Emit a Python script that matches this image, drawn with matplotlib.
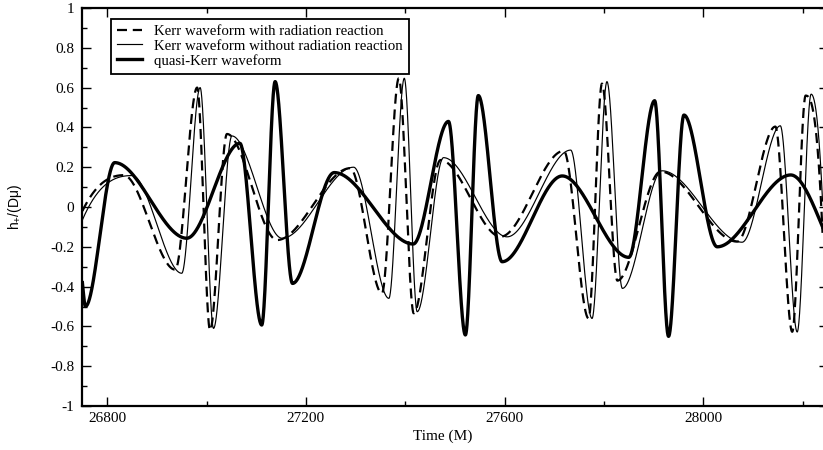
import numpy as np
import matplotlib
matplotlib.use("Agg")
import matplotlib.pyplot as plt
from matplotlib.ticker import MultipleLocator, FuncFormatter

# ---- data (extrema of each waveform) ----
t_rr = [26750, 26833, 26937, 26981, 27007, 27041, 27142, 27289, 27353, 27387,
        27417, 27471, 27592, 27719, 27769, 27796, 27827, 27914, 28068, 28145,
        28179, 28206, 28240]
h_rr = [-0.02, 0.16, -0.315, 0.60, -0.62, 0.367, -0.166, 0.195, -0.434, 0.647,
        -0.534, 0.236, -0.149, 0.282, -0.56, 0.62, -0.37, 0.178, -0.174, 0.404,
        -0.627, 0.56, -0.13]

t_norr = [26750, 26850, 26950, 26987, 27014, 27051, 27152, 27296, 27367, 27398,
          27424, 27477, 27605, 27733, 27776, 27806, 27837, 27917, 28078, 28155,
          28189, 28217, 28240]
h_norr = [-0.065, 0.158, -0.333, 0.60, -0.61, 0.357, -0.157, 0.20, -0.459, 0.647,
          -0.526, 0.248, -0.15, 0.286, -0.56, 0.63, -0.409, 0.182, -0.177, 0.408,
          -0.628, 0.567, 0.03]

t_qk = [26750, 26756, 26815, 26960, 27067, 27111, 27138, 27173, 27257, 27416,
        27487, 27521, 27547, 27595, 27716, 27850, 27902, 27930, 27961, 28028,
        28176, 28240]
h_qk = [-0.38, -0.50, 0.223, -0.157, 0.32, -0.593, 0.63, -0.384, 0.173, -0.186,
        0.43, -0.643, 0.56, -0.275, 0.156, -0.253, 0.534, -0.65, 0.462, -0.2,
        0.161, -0.1]

labels = ["Kerr waveform with radiation reaction",
          "Kerr waveform without radiation reaction",
          "quasi-Kerr waveform"]
xticks = [26800, 27200, 27600, 28000]


def pchip(x, y, xs):
    """Shape-preserving smooth curve through the read points."""
    x = np.asarray(x, float)
    y = np.asarray(y, float)
    h = np.diff(x)
    d = np.diff(y) / h
    n = len(x)
    m = np.zeros(n)
    for k in range(1, n - 1):
        if d[k - 1] * d[k] > 0:
            w1 = 2 * h[k] + h[k - 1]
            w2 = h[k] + 2 * h[k - 1]
            m[k] = (w1 + w2) / (w1 / d[k - 1] + w2 / d[k])

    def end(h0, h1, d0, d1):
        s = ((2 * h0 + h1) * d0 - h0 * d1) / (h0 + h1)
        if np.sign(s) != np.sign(d0):
            s = 0.0
        elif np.sign(d0) != np.sign(d1) and abs(s) > abs(3 * d0):
            s = 3 * d0
        return s

    m[0] = end(h[0], h[1], d[0], d[1])
    m[-1] = end(h[-1], h[-2], d[-1], d[-2])
    idx = np.clip(np.searchsorted(x, xs) - 1, 0, n - 2)
    t = (xs - x[idx]) / h[idx]
    h00 = 2 * t**3 - 3 * t**2 + 1
    h10 = t**3 - 2 * t**2 + t
    h01 = -2 * t**3 + 3 * t**2
    h11 = t**3 - t**2
    return (h00 * y[idx] + h10 * h[idx] * m[idx]
            + h01 * y[idx + 1] + h11 * h[idx] * m[idx + 1])


plt.rcParams["font.family"] = ["Liberation Serif", "DejaVu Serif"]
plt.rcParams["axes.unicode_minus"] = False
plt.rcParams["mathtext.fontset"] = "custom"
plt.rcParams["mathtext.rm"] = "Liberation Sans"
plt.rcParams["mathtext.it"] = "Liberation Sans"

fig = plt.figure(figsize=(8.23, 4.5), dpi=100)
W, H = 823.0, 450.0
ax = fig.add_axes([82.4 / W, 1 - 406 / H, 745.1 / W, 398 / H])

ts = np.linspace(26750, 28240, 4000)
l1, = ax.plot(ts, pchip(t_rr, h_rr, ts), color="black", lw=1.6,
              dashes=(4.5, 2.6), label=labels[0])
l2, = ax.plot(ts, pchip(t_norr, h_norr, ts), color="black", lw=0.85,
              label=labels[1])
l3, = ax.plot(ts, pchip(t_qk, h_qk, ts), color="black", lw=2.4,
              label=labels[2])

ax.set_xlim(26750, 28250)
ax.set_ylim(-1, 1)
ax.set_xticks(xticks)
ax.xaxis.set_minor_locator(MultipleLocator(200))
ax.yaxis.set_major_locator(MultipleLocator(0.2))
ax.yaxis.set_minor_locator(MultipleLocator(0.1))
ax.yaxis.set_major_formatter(FuncFormatter(lambda v, p: "%g" % round(v, 2)))
ax.xaxis.set_major_formatter(FuncFormatter(lambda v, p: "%d" % v))

ax.tick_params(which="both", direction="in", top=True, right=True,
               labelsize=11, width=1.0)
ax.tick_params(which="major", length=6.5)
ax.tick_params(which="minor", length=3.5)
ax.tick_params(axis="x", pad=4)
ax.tick_params(axis="y", pad=6)
for sp in ax.spines.values():
    sp.set_linewidth(1.6)

ax.set_xlabel("Time (M)", fontsize=11)
ax.xaxis.set_label_coords(0.484, -0.058)
ax.set_ylabel(r"h$_{+}$/(D$\mu$)", fontsize=10, family="Liberation Sans")
ax.yaxis.set_label_coords(-0.079, 0.5)

leg = ax.legend(handles=[l1, l2, l3], loc="upper left",
                bbox_to_anchor=(0.0384, 0.973), borderaxespad=0,
                fontsize=10.7, handlelength=1.7, handletextpad=0.8,
                labelspacing=0.08, borderpad=0.4, fancybox=False,
                framealpha=1, edgecolor="black")
leg.get_frame().set_linewidth(1.3)

fig.savefig("out.png", dpi=100)
